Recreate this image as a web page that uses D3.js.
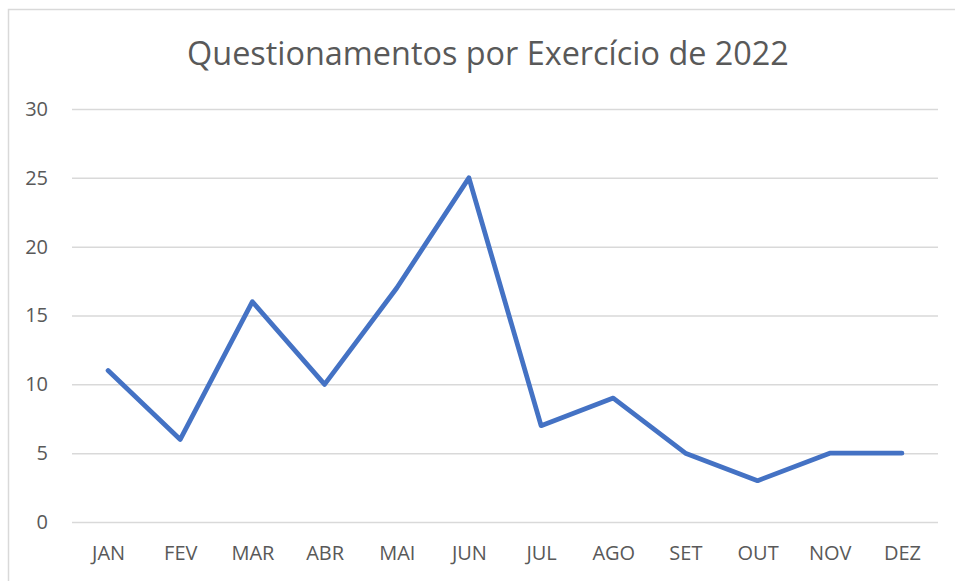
<!DOCTYPE html>
<html><head><meta charset="utf-8">
<script src="https://cdn.jsdelivr.net/npm/d3@7"></script>
<style>body{margin:0;background:#fff;} svg{display:block;}</style>
</head><body>
<svg id="c" width="955" height="581"></svg>
<script>
const months = ["JAN","FEV","MAR","ABR","MAI","JUN","JUL","AGO","SET","OUT","NOV","DEZ"];
const values = [11,6,16,10,17,25,7,9,5,3,5,5];
const yTicks = [0,5,10,15,20,25,30];
const title = "Questionamentos por Exercício de 2022";

(function(){
const svg = d3.select("#c");
const font = "'Open Sans', 'Noto Sans', sans-serif";
svg.append("rect").attr("x",8.5).attr("y",9.5).attr("width",960).attr("height",590)
  .attr("fill","#fff").attr("stroke","#d9d9d9").attr("stroke-width",1.5);

const pLeft = 72, pRight = 938, pTop = 109, pBottom = 522;
const x = d3.scalePoint().domain(months).range([pLeft, pRight]).padding(0.5);
const y = d3.scaleLinear().domain([0,30]).range([pBottom, pTop]);

svg.append("text").attr("x",488).attr("y",65).attr("text-anchor","middle")
  .attr("font-family",font).attr("font-size",32.4).attr("fill","#595959").text(title);

const yAxis = d3.axisLeft(y).tickValues(yTicks).tickSize(-(pRight-pLeft)).tickPadding(24);
const gy = svg.append("g").attr("transform",`translate(${pLeft},0)`).call(yAxis);
gy.select(".domain").remove();
gy.selectAll(".tick line").attr("stroke","#d9d9d9").attr("stroke-width",1.5);
gy.selectAll(".tick text").attr("font-family",font).attr("font-size",20).attr("fill","#595959");

const xAxis = d3.axisBottom(x).tickSize(0).tickPadding(24);
const gx = svg.append("g").attr("transform",`translate(0,${pBottom})`).call(xAxis);
gx.select(".domain").remove();
gx.selectAll(".tick text").attr("font-family",font).attr("font-size",20).attr("fill","#595959");

const line = d3.line().x((d,i)=>x(months[i])).y(d=>y(d));
svg.append("path").datum(values).attr("d",line).attr("fill","none")
  .attr("stroke","#4472C4").attr("stroke-width",4.8).attr("stroke-linejoin","round").attr("stroke-linecap","round");
})();
</script>
</body></html>
